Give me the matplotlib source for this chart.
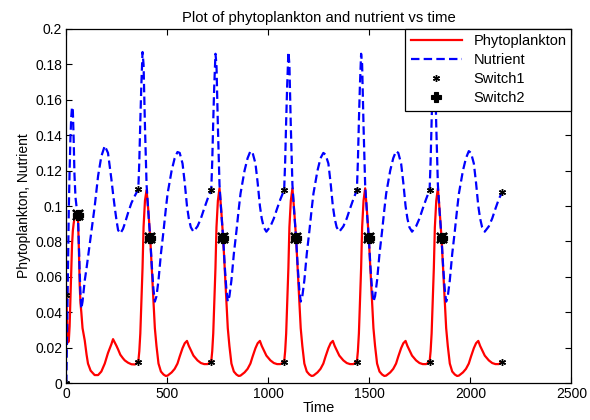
import matplotlib
matplotlib.use("Agg")
import matplotlib.pyplot as plt
import numpy as np

plt.rcParams['font.family'] = ['Liberation Sans', 'DejaVu Sans']

# ---- data ----
t_c1 = [0, 3, 6, 9, 12, 16, 20, 24, 28, 32, 36, 40, 45, 50, 57, 62, 66, 70, 74, 80,
        91, 100, 107, 120, 140, 157, 173, 190, 206, 223, 231, 239, 248, 256, 267,
        280, 289, 305, 322, 340]
nutr_c1 = [0.0, 0.025, 0.050, 0.075, 0.098, 0.120, 0.138, 0.150, 0.156, 0.154, 0.138,
           0.118, 0.105, 0.100, 0.095, 0.078, 0.062, 0.050, 0.042, 0.046, 0.058, 0.065,
           0.071, 0.082, 0.0996, 0.117, 0.128, 0.134, 0.130, 0.115, 0.107, 0.0996,
           0.092, 0.0864, 0.0845, 0.087, 0.090, 0.096, 0.1017, 0.106]
phyto_c1 = [0.050, 0.036, 0.026, 0.023, 0.024, 0.032, 0.048, 0.065, 0.078, 0.086, 0.090,
            0.093, 0.095, 0.096, 0.095, 0.075, 0.055, 0.045, 0.040, 0.031, 0.024, 0.016,
            0.011, 0.007, 0.0045, 0.0045, 0.0065, 0.011, 0.017, 0.022, 0.0248, 0.023,
            0.021, 0.019, 0.016, 0.014, 0.0128, 0.0115, 0.0106, 0.0105]

t_c2 = [356, 361, 366, 371, 377, 382, 389, 397, 406, 415, 423, 431, 438, 446, 456, 468,
        481, 492, 501, 521, 536, 550, 561, 575, 586, 597, 606, 616, 629, 649, 666, 682, 699]
t_c3 = [717, 722, 727, 732, 738, 743, 750, 758, 767, 776, 784, 792, 799, 807, 817, 829,
        842, 853, 862, 882, 897, 911, 922, 936, 947, 958, 967, 977, 990, 1010, 1027, 1043, 1060]
t_c4 = [1078, 1083, 1088, 1093, 1099, 1104, 1111, 1119, 1128, 1137, 1145, 1153, 1160, 1168,
        1178, 1190, 1203, 1214, 1223, 1243, 1258, 1272, 1283, 1297, 1308, 1319, 1328, 1338,
        1351, 1371, 1388, 1404, 1421]
t_c5 = [1438, 1443, 1448, 1453, 1459, 1464, 1471, 1479, 1488, 1497, 1505, 1513, 1520, 1528,
        1538, 1550, 1563, 1574, 1583, 1603, 1618, 1632, 1643, 1657, 1668, 1679, 1688, 1698,
        1711, 1731, 1748, 1764, 1781]
t_c6 = [1798, 1803, 1808, 1813, 1819, 1824, 1831, 1839, 1848, 1857, 1865, 1873, 1880, 1888,
        1898, 1910, 1923, 1934, 1943, 1963, 1978, 1992, 2003, 2017, 2028, 2039, 2048, 2058,
        2071, 2091, 2108, 2124, 2141, 2158]

nutr_c2 = [0.1095, 0.125, 0.148, 0.168, 0.187, 0.180, 0.145, 0.112, 0.096, 0.082, 0.066,
           0.053, 0.046, 0.049, 0.058, 0.073, 0.086, 0.098, 0.107, 0.120, 0.127, 0.1305,
           0.130, 0.124, 0.113, 0.100, 0.093, 0.088, 0.0855, 0.0885, 0.093, 0.0985, 0.104]
nutr_c3 = [0.109, 0.125, 0.148, 0.168, 0.186, 0.180, 0.145, 0.112, 0.096, 0.082, 0.066,
           0.053, 0.046, 0.049, 0.058, 0.073, 0.086, 0.098, 0.107, 0.120, 0.127, 0.131,
           0.130, 0.124, 0.113, 0.100, 0.093, 0.088, 0.0855, 0.0885, 0.093, 0.0985, 0.104]
nutr_c4 = [0.109, 0.125, 0.148, 0.168, 0.187, 0.180, 0.145, 0.112, 0.096, 0.082, 0.066,
           0.053, 0.046, 0.049, 0.058, 0.073, 0.086, 0.098, 0.107, 0.120, 0.127, 0.130,
           0.129, 0.124, 0.113, 0.100, 0.093, 0.088, 0.0855, 0.0885, 0.093, 0.0985, 0.104]
nutr_c5 = [0.109, 0.125, 0.148, 0.168, 0.186, 0.180, 0.145, 0.112, 0.096, 0.082, 0.066,
           0.053, 0.046, 0.049, 0.058, 0.073, 0.086, 0.098, 0.107, 0.120, 0.127, 0.131,
           0.130, 0.124, 0.113, 0.100, 0.093, 0.088, 0.0855, 0.0885, 0.093, 0.0985, 0.104]
nutr_c6 = [0.109, 0.125, 0.148, 0.168, 0.186, 0.180, 0.145, 0.112, 0.096, 0.082, 0.066,
           0.053, 0.046, 0.049, 0.058, 0.073, 0.086, 0.098, 0.107, 0.120, 0.127, 0.131,
           0.130, 0.124, 0.113, 0.100, 0.093, 0.088, 0.0855, 0.0885, 0.093, 0.0985, 0.104,
           0.108]

phyto_c2 = [0.012, 0.018, 0.028, 0.045, 0.065, 0.088, 0.103, 0.109, 0.097, 0.082, 0.064,
            0.045, 0.031, 0.021, 0.011, 0.0065, 0.0048, 0.004, 0.0042, 0.006, 0.008, 0.011,
            0.015, 0.0197, 0.0225, 0.0238, 0.021, 0.0186, 0.0155, 0.0128, 0.0113, 0.0107, 0.0107]
phyto_c3 = [0.012, 0.018, 0.028, 0.045, 0.065, 0.088, 0.103, 0.110, 0.097, 0.082, 0.064,
            0.045, 0.031, 0.021, 0.011, 0.0065, 0.0048, 0.004, 0.0042, 0.006, 0.008, 0.011,
            0.015, 0.0197, 0.0225, 0.0238, 0.021, 0.0186, 0.0155, 0.0128, 0.0113, 0.0107, 0.0107]
phyto_c4 = [0.012, 0.018, 0.028, 0.045, 0.065, 0.088, 0.103, 0.110, 0.097, 0.082, 0.064,
            0.045, 0.031, 0.021, 0.011, 0.0065, 0.0048, 0.004, 0.0042, 0.006, 0.008, 0.011,
            0.015, 0.0197, 0.0225, 0.0238, 0.021, 0.0186, 0.0155, 0.0128, 0.0113, 0.0107, 0.0107]
phyto_c5 = [0.012, 0.018, 0.028, 0.045, 0.065, 0.088, 0.103, 0.110, 0.097, 0.082, 0.064,
            0.045, 0.031, 0.021, 0.011, 0.0065, 0.0048, 0.004, 0.0042, 0.006, 0.008, 0.011,
            0.015, 0.0197, 0.0225, 0.0238, 0.021, 0.0186, 0.0155, 0.0128, 0.0113, 0.0107, 0.0107]
phyto_c6 = [0.012, 0.018, 0.028, 0.045, 0.065, 0.088, 0.103, 0.110, 0.097, 0.082, 0.064,
            0.045, 0.031, 0.021, 0.011, 0.0065, 0.0048, 0.004, 0.0042, 0.006, 0.008, 0.011,
            0.015, 0.0197, 0.0225, 0.0238, 0.021, 0.0186, 0.0155, 0.0128, 0.0113, 0.0107, 0.0107,
            0.012]

switch1_t = [0, 356, 717, 1078, 1438, 1798, 2158]
switch1_phyto = [0.050, 0.012, 0.012, 0.012, 0.012, 0.012, 0.012]
switch1_nutr = [0.0, 0.1095, 0.109, 0.109, 0.109, 0.109, 0.108]

switch2_t = [57, 415, 776, 1137, 1497, 1857]
switch2_phyto = [0.095, 0.082, 0.082, 0.082, 0.082, 0.082]
switch2_nutr = [0.095, 0.082, 0.082, 0.082, 0.082, 0.082]

x_ticks = [0, 500, 1000, 1500, 2000, 2500]
y_ticks = [0, 0.02, 0.04, 0.06, 0.08, 0.1, 0.12, 0.14, 0.16, 0.18, 0.2]
y_tick_labels = ['0', '0.02', '0.04', '0.06', '0.08', '0.1', '0.12', '0.14', '0.16', '0.18', '0.2']

# ---- assemble ----
time = t_c1 + t_c2 + t_c3 + t_c4 + t_c5 + t_c6
phyto = phyto_c1 + phyto_c2 + phyto_c3 + phyto_c4 + phyto_c5 + phyto_c6
nutr = nutr_c1 + nutr_c2 + nutr_c3 + nutr_c4 + nutr_c5 + nutr_c6

asterisk = (6, 2, 0)

fig = plt.figure(figsize=(5.9, 4.2), dpi=100)
ax = fig.add_axes([0.1125, 0.088, 0.856, 0.843])

ax.plot(time, phyto, color='#ff0000', lw=1.6, label='Phytoplankton')
ax.plot(time, nutr, color='#0000ff', lw=1.6, ls=(0, (3.8, 1.9)), label='Nutrient')
ax.plot(switch1_t + switch1_t, switch1_phyto + switch1_nutr, ls='none', marker=asterisk,
        color='black', ms=5, mew=1.0, label='Switch1')
ax.plot(switch2_t + switch2_t, switch2_phyto + switch2_nutr, ls='none', marker='P',
        color='black', ms=7, mew=0.8, label='Switch2')
ax.plot(switch2_t + switch2_t, switch2_phyto + switch2_nutr, ls='none', marker='x',
        color='black', ms=7, mew=1.6)

ax.set_xlim(0, 2500)
ax.set_ylim(0, 0.2)
ax.set_xticks(x_ticks)
ax.set_yticks(y_ticks)
ax.set_yticklabels(y_tick_labels)
ax.tick_params(direction='in', top=True, right=True, labelsize=10, length=4, width=0.8,
               pad=3)
for s in ax.spines.values():
    s.set_linewidth(0.9)

ax.set_title('Plot of phytoplankton and nutrient vs time', fontsize=10.7, pad=5)
ax.set_xlabel('Time', fontsize=10.5, labelpad=0)
ax.set_ylabel('Phytoplankton, Nutrient', fontsize=10, labelpad=3)

leg = ax.legend(loc='upper right', fontsize=10.5, borderaxespad=0, handlelength=3.5,
                fancybox=False, edgecolor='black', framealpha=1, borderpad=0.35,
                labelspacing=0.35, handletextpad=0.8)
leg.get_frame().set_linewidth(0.9)

fig.savefig('out.png', dpi=100)
